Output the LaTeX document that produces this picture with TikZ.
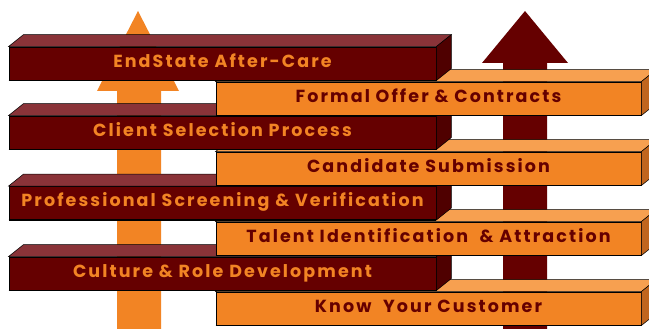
\documentclass[tikz,border=0pt]{standalone}
\usepackage{fontspec}
\setmainfont{Poppins}
\newfontfamily\barfont{Poppins}[LetterSpace=12]
\definecolor{darkfront}{HTML}{650000}
\definecolor{darktop}{HTML}{8A3338}
\definecolor{darkside}{HTML}{4F0000}
\definecolor{orfront}{HTML}{F28424}
\definecolor{ortop}{HTML}{F7A050}
\definecolor{orside}{HTML}{C0651E}
\tikzset{
  barbase/.style={draw=black, line width=0.9pt, inner sep=0pt,
    minimum height=33pt, text height=10pt, text depth=2pt,
    font=\barfont\fontsize{17.5}{17.5}\selectfont\bfseries},
  darkbar/.style={barbase, fill=darkfront, text=orfront, minimum width=427pt},
  orbar/.style={barbase, fill=orfront, text=darkfront, minimum width=425pt},
  facedraw/.style={draw=black, line width=0.5pt}
}
\newcommand{\barfaces}[3]{%
  \filldraw[facedraw, fill=#2] (#1.north west) -- ++(15,-12) -- ($(#1.north east)+(15,-12)$) -- (#1.north east) -- cycle;
  \filldraw[facedraw, fill=#3] (#1.north east) -- ++(15,-12) -- ($(#1.south east)+(15,-12)$) -- (#1.south east) -- cycle;
  \draw[black, line width=1.6pt] (#1.south west) -- (#1.south east);
}
\usetikzlibrary{calc}
\begin{document}
\begin{tikzpicture}[x=1pt,y=-1pt]
\clip (0,0) rectangle (649,329);
\fill[white] (0,0) rectangle (649,329);
% arrows
\fill[orfront] (117,335) -- (117,91) -- (97,91) -- (138,11) -- (179,91) -- (161,91) -- (161,335) -- cycle;
\fill[darkfront] (503,335) -- (503,63) -- (482,63) -- (525,11) -- (568,63) -- (547,63) -- (547,335) -- cycle;
% bars bottom-up
\node[orbar] (know) at (428.5,308.5) {Know\ \ Your Customer};
\barfaces{know}{ortop}{orside}
\node[darkbar] (culture) at (222.5,273.5) {Culture \& Role Development};
\barfaces{culture}{darktop}{darkside}
\node[orbar] (talent) at (428.5,238.5) {Talent Identification\ \ \& Attraction};
\barfaces{talent}{ortop}{orside}
\node[darkbar] (prof) at (222.5,203) {Professional Screening \& Verification};
\barfaces{prof}{darktop}{darkside}
\node[orbar] (cand) at (428.5,168.5) {Candidate Submission};
\barfaces{cand}{ortop}{orside}
\node[darkbar] (client) at (222.5,132.5) {Client Selection Process};
\barfaces{client}{darktop}{darkside}
\node[orbar] (formal) at (428.5,98.5) {Formal Offer \& Contracts};
\barfaces{formal}{ortop}{orside}
\node[darkbar] (endstate) at (222.5,63.5) {EndState After-Care};
\barfaces{endstate}{darktop}{darkside}
\end{tikzpicture}
\end{document}
